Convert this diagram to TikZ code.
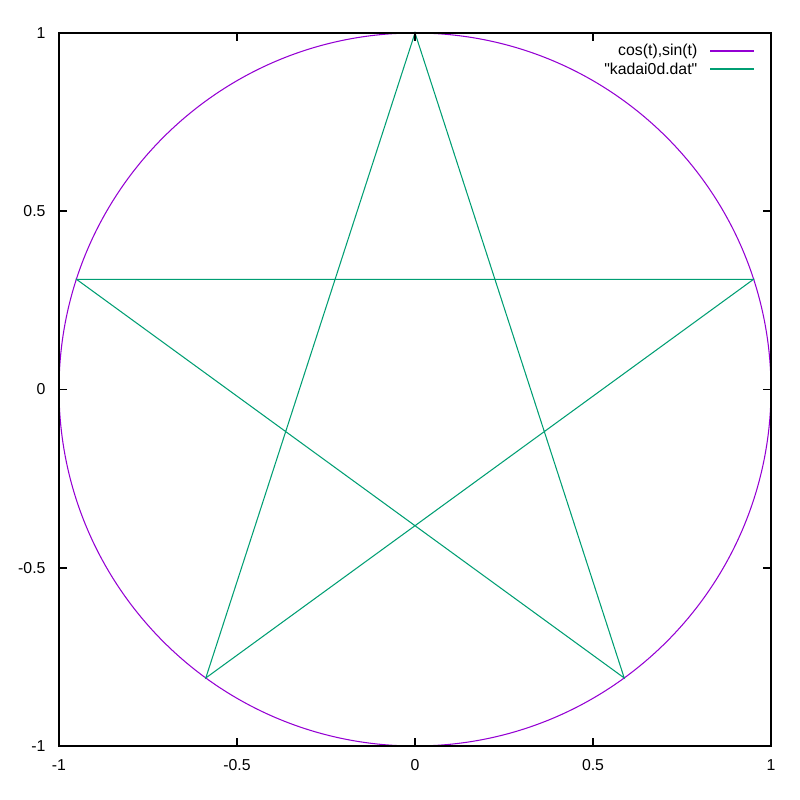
\documentclass[tikz,border=0pt]{standalone}
\usepackage{fontspec}
\setmainfont{Liberation Sans}
\usetikzlibrary{calc}
\definecolor{circcol}{RGB}{148,0,211}
\definecolor{starcol}{RGB}{0,158,115}
\tikzset{
  frame/.style = {black, line width=0.45pt},
  ticklbl/.style = {font=\fontsize{4.5}{5.5}\selectfont, inner sep=0pt},
  curve/.style = {line width=0.3pt}
}

\begin{document}
\begin{tikzpicture}[x=1cm,y=1cm]
	\useasboundingbox (0,0) rectangle (8,8);
	
	% plot area: px 59..771 horizontally, 33..746 vertically
	\begin{scope}[shift={(4.15,4.105)}, xscale=3.56, yscale=3.565]
	\draw[curve, circcol] (0,0) circle (1);
	\foreach \k in {0,...,4}
	  \coordinate (p\k) at ({90+144*\k}:1);
	\draw[curve, starcol] (p0) -- (p1) -- (p2) -- (p3) -- (p4) -- cycle;
	
	% frame and ticks
	\draw[frame] (-1,-1) rectangle (1,1);
	\foreach \v/\t in {-1/-1,-0.5/-0.5,0/0,0.5/0.5,1/1} {
	  \draw[frame] (\v,-1) -- ++(0,0.0225);
	  \draw[frame] (\v,1) -- ++(0,-0.0225);
	  \draw[frame] (-1,\v) -- ++(0.0225,0);
	  \draw[frame] (1,\v) -- ++(-0.0225,0);
	  \node[ticklbl, anchor=east] (yl\t) at (-1.036,\v) {\t};
	  \node[ticklbl] (xl\t) at (\v,-1.053) {\t};
	}
	\end{scope}
	
	% key
	\node[ticklbl, anchor=east] (k1) at (6.98,7.49) {cos(t),sin(t)};
	\node[ticklbl, anchor=east] (k2) at (6.98,7.31) {\textquotedbl kadai0d.dat\textquotedbl};
	\coordinate (k1a) at (7.10,7.49); \coordinate (k1b) at (7.54,7.49);
	\coordinate (k2a) at (7.10,7.31); \coordinate (k2b) at (7.54,7.31);
	\draw[curve, circcol] (k1a) -- (k1b);
	\draw[curve, starcol] (k2a) -- (k2b);
\end{tikzpicture}
\end{document}
